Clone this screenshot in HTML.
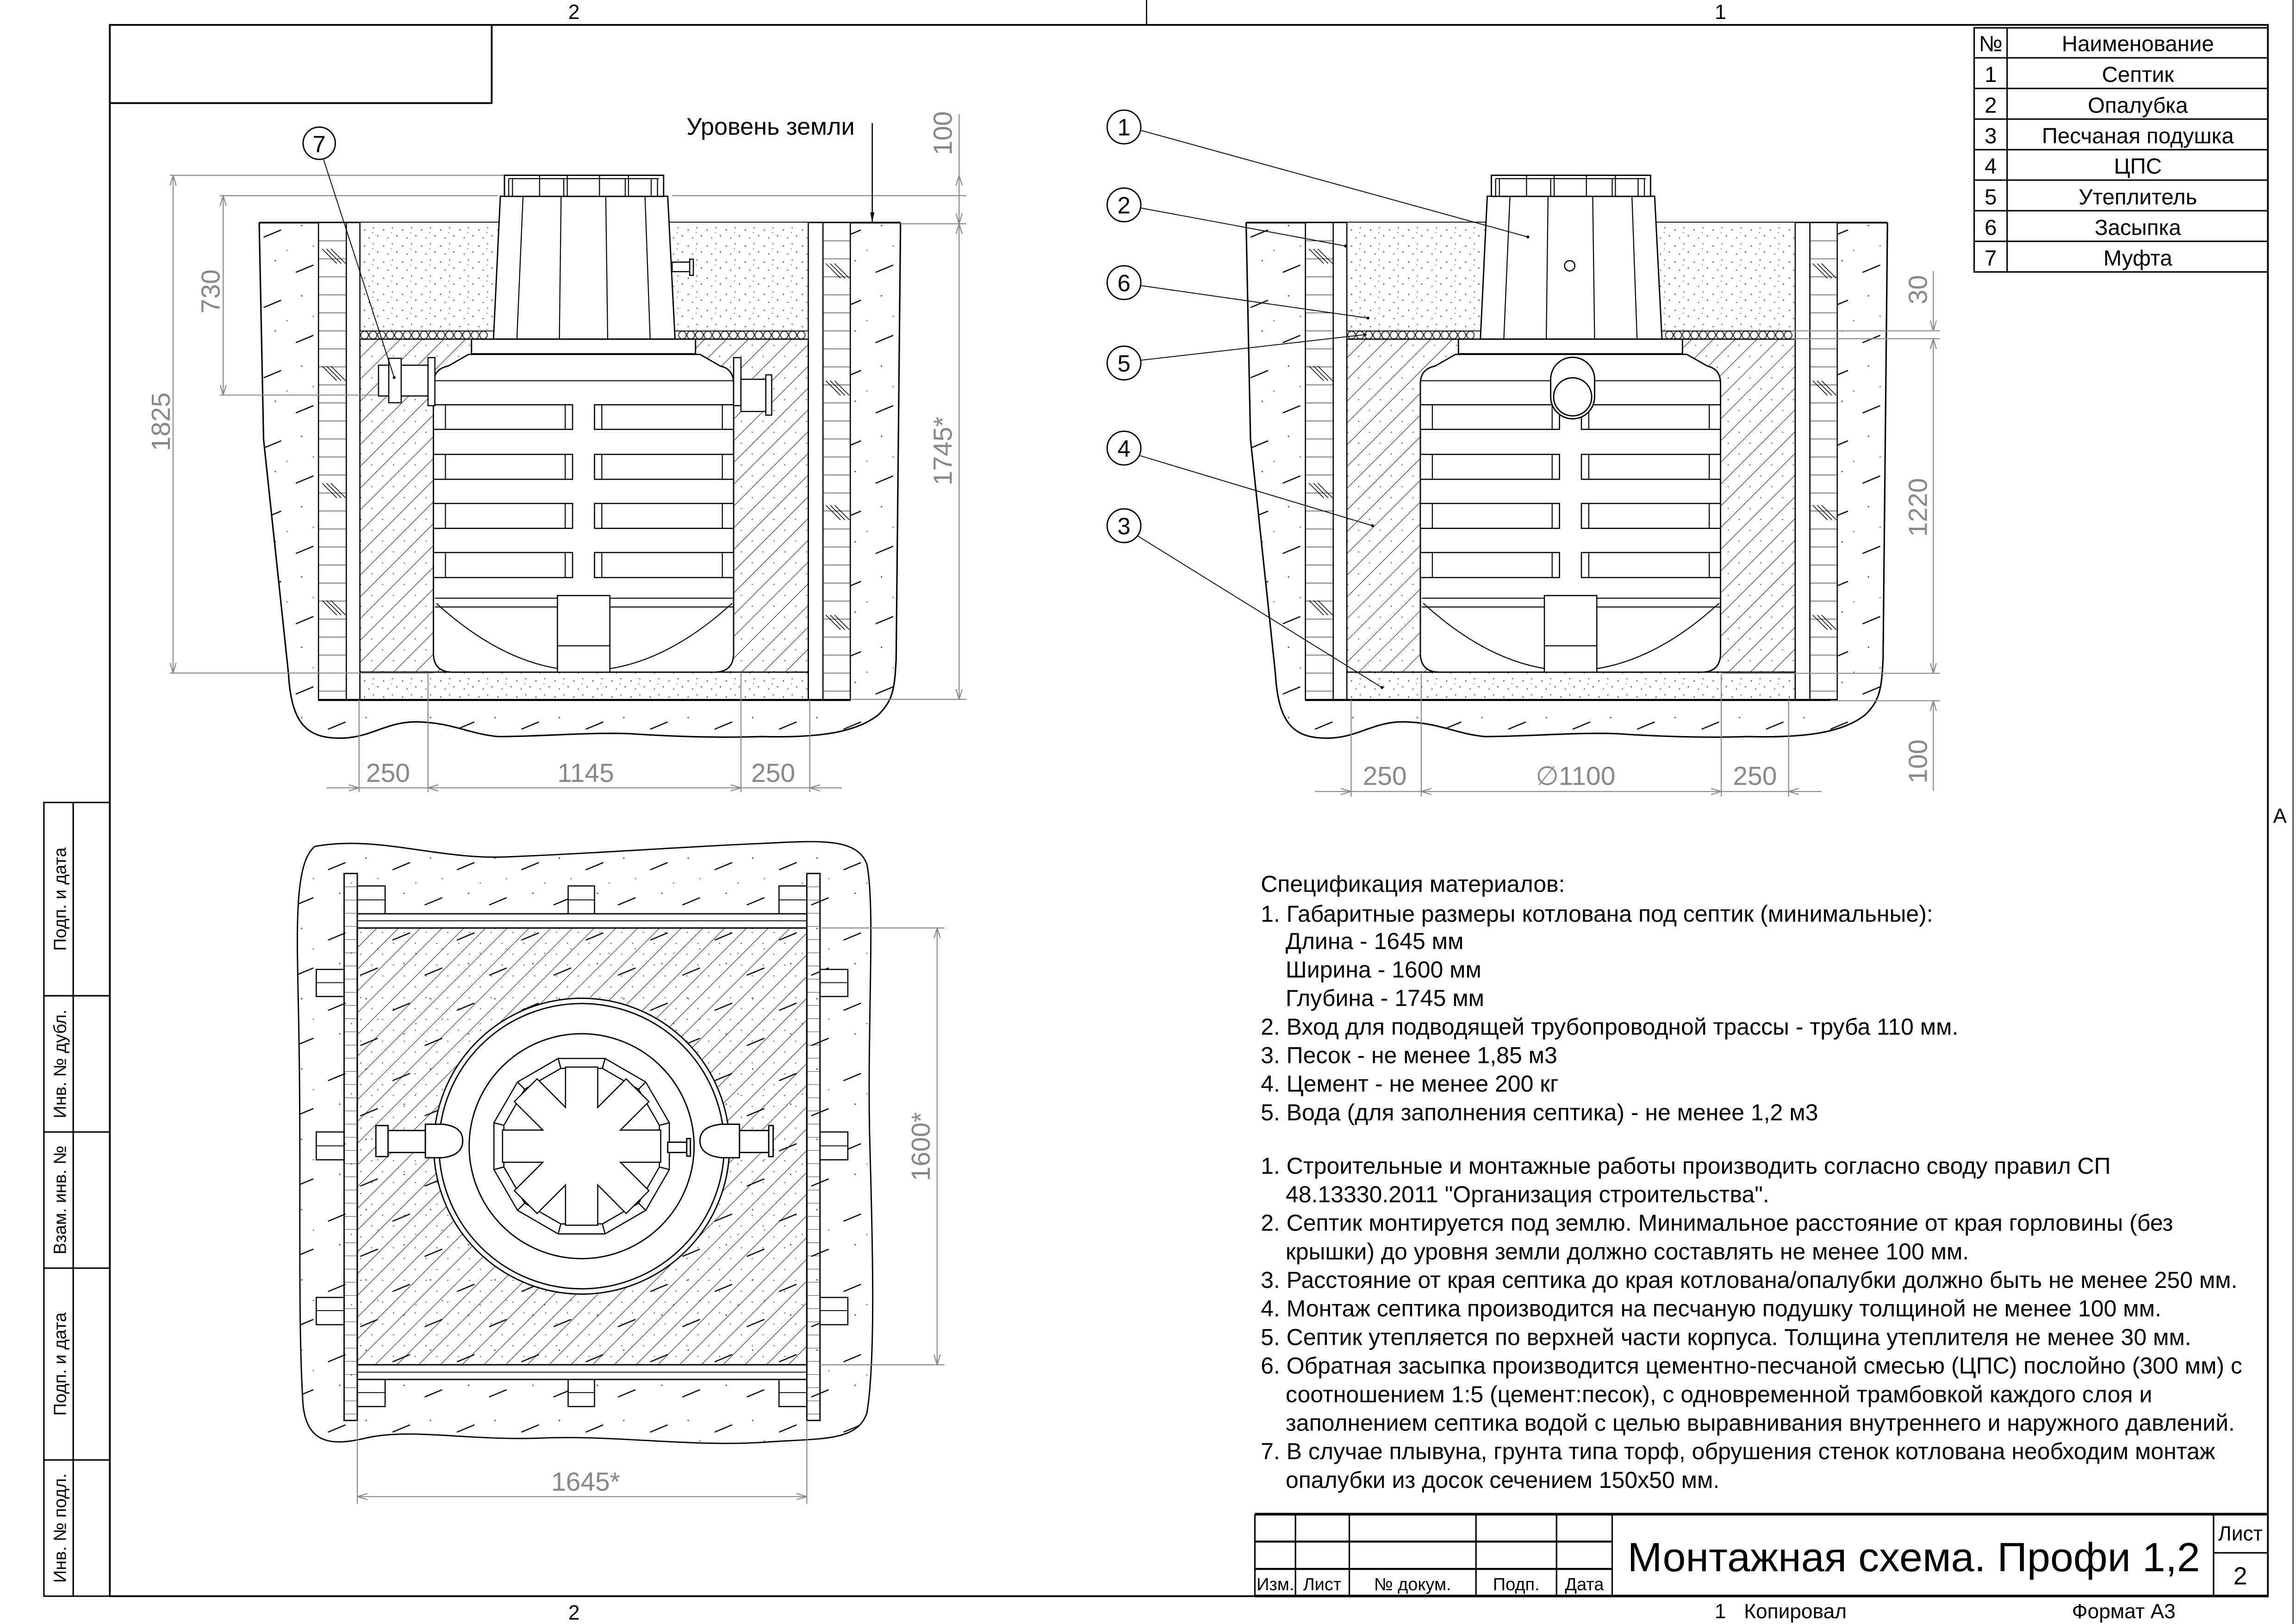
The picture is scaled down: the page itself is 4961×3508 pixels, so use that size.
<!DOCTYPE html>
<html><head><meta charset="utf-8"><style>
html,body{margin:0;padding:0;background:#fff;}
svg{display:block;}
</style></head><body>
<svg xmlns="http://www.w3.org/2000/svg" width="4961" height="3508" viewBox="0 0 1568 1109" preserveAspectRatio="none" font-family="'Liberation Sans', sans-serif">
<defs>
<pattern id="sand" patternUnits="userSpaceOnUse" width="13" height="11">
<circle cx="2" cy="3" r=".45" fill="#444"/><circle cx="8" cy="1.5" r=".4" fill="#444"/><circle cx="11" cy="7" r=".45" fill="#444"/><circle cx="5" cy="8.5" r=".4" fill="#444"/><circle cx="7.5" cy="5" r=".35" fill="#666"/>
</pattern>
<pattern id="ground" patternUnits="userSpaceOnUse" width="44" height="48">
<line x1="4" y1="18" x2="16" y2="13" stroke="#000" stroke-width=".8"/>
<line x1="26" y1="42" x2="38" y2="37" stroke="#000" stroke-width=".8"/>
<circle cx="30" cy="10" r=".5" fill="#444"/><circle cx="12" cy="34" r=".5" fill="#444"/><circle cx="38" cy="24" r=".4" fill="#444"/><circle cx="20" cy="27" r=".4" fill="#444"/>
</pattern>
<pattern id="hatch" patternUnits="userSpaceOnUse" width="10.5" height="10.5" patternTransform="rotate(45)">
<line x1="0" y1="0" x2="0" y2="10.5" stroke="#000" stroke-width=".6"/>
<circle cx="5" cy="3" r=".4" fill="#555"/>
</pattern>
<pattern id="brick" patternUnits="userSpaceOnUse" width="50" height="12.3" y="152">
<line x1="0" y1="0" x2="50" y2="0" stroke="#000" stroke-width=".6"/>
</pattern>
<pattern id="brickp" patternUnits="userSpaceOnUse" width="50" height="9" y="596.5">
<line x1="0" y1="0" x2="50" y2="0" stroke="#000" stroke-width=".5"/>
</pattern>
<marker id="ar" viewBox="0 0 10 10" refX="10" refY="5" markerWidth="7" markerHeight="7" orient="auto-start-reverse" markerUnits="userSpaceOnUse">
<path d="M0,2 L10,5 L0,8" fill="none" stroke="#888" stroke-width="1"/>
</marker>
<marker id="arb" viewBox="0 0 10 10" refX="10" refY="5" markerWidth="7" markerHeight="7" orient="auto" markerUnits="userSpaceOnUse">
<path d="M0,3 L10,5 L0,7 Z" fill="#000"/>
</marker>

<g id="section">
<path d="M177,152 L180,300 L197,460 C199,495 210,505 235,504 C255,503 265,492 287,493 C310,494 320,501 340,503 C370,503 400,500 430,501 C460,503 490,504 520,503 C560,504 585,500 600,488 C610,478 611,470 612,450 L615,152" fill="url(#ground)" stroke="#000" stroke-width="1"/>
<line x1="177" y1="152" x2="615" y2="152" stroke="#000" stroke-width="1.2"/>
<rect x="217.5" y="152" width="363.2" height="326" fill="#fff"/>
<rect x="217.5" y="152" width="19" height="326" fill="url(#brick)" stroke="#000" stroke-width=".8"/>
<rect x="236.5" y="152" width="9.3" height="326" fill="#fff" stroke="#000" stroke-width=".8"/>
<rect x="562" y="152" width="18.7" height="326" fill="url(#brick)" stroke="#000" stroke-width=".8"/>
<rect x="552" y="152" width="10" height="326" fill="#fff" stroke="#000" stroke-width=".8"/>
<g stroke="#000" stroke-width=".5">
<path d="M220,170 l10,10 M223,170 l10,10 M226,170 l10,10 M220,250 l10,10 M223,250 l10,10 M226,250 l10,10 M220,330 l10,10 M223,330 l10,10 M226,330 l10,10 M220,410 l10,10 M223,410 l10,10 M226,410 l10,10"/>
<path d="M564,180 l10,10 M567,180 l10,10 M570,180 l10,10 M564,260 l10,10 M567,260 l10,10 M570,260 l10,10 M564,345 l10,10 M567,345 l10,10 M570,345 l10,10 M564,420 l10,10 M567,420 l10,10 M570,420 l10,10"/>
</g>
<rect x="245.8" y="152" width="306.2" height="74" fill="url(#sand)"/>
<rect x="245.8" y="226" width="306.2" height="5.6" fill="#fff" stroke="#000" stroke-width=".6"/>
<g fill="none" stroke="#000" stroke-width=".5">
<circle cx="249" cy="228.8" r="2.6"/><circle cx="254.8" cy="228.8" r="2.6"/><circle cx="260.6" cy="228.8" r="2.6"/><circle cx="266.4" cy="228.8" r="2.6"/><circle cx="272.2" cy="228.8" r="2.6"/><circle cx="278" cy="228.8" r="2.6"/><circle cx="283.8" cy="228.8" r="2.6"/><circle cx="289.6" cy="228.8" r="2.6"/><circle cx="295.4" cy="228.8" r="2.6"/><circle cx="301.2" cy="228.8" r="2.6"/><circle cx="307" cy="228.8" r="2.6"/><circle cx="312.8" cy="228.8" r="2.6"/><circle cx="318.6" cy="228.8" r="2.6"/><circle cx="324.4" cy="228.8" r="2.6"/><circle cx="330.2" cy="228.8" r="2.6"/>
<circle cx="466" cy="228.8" r="2.6"/><circle cx="471.8" cy="228.8" r="2.6"/><circle cx="477.6" cy="228.8" r="2.6"/><circle cx="483.4" cy="228.8" r="2.6"/><circle cx="489.2" cy="228.8" r="2.6"/><circle cx="495" cy="228.8" r="2.6"/><circle cx="500.8" cy="228.8" r="2.6"/><circle cx="506.6" cy="228.8" r="2.6"/><circle cx="512.4" cy="228.8" r="2.6"/><circle cx="518.2" cy="228.8" r="2.6"/><circle cx="524" cy="228.8" r="2.6"/><circle cx="529.8" cy="228.8" r="2.6"/><circle cx="535.6" cy="228.8" r="2.6"/><circle cx="541.4" cy="228.8" r="2.6"/><circle cx="547.2" cy="228.8" r="2.6"/>
</g>
<rect x="245.8" y="231.6" width="306.2" height="227.4" fill="url(#hatch)" stroke="#000" stroke-width=".8"/>
<rect x="245.8" y="459" width="306.2" height="19" fill="url(#sand)" stroke="#000" stroke-width=".8"/>
<line x1="217.5" y1="478" x2="580.7" y2="478" stroke="#000" stroke-width="1.4"/>
<g fill="#fff" stroke="#000" stroke-width=".9">
<polygon points="341.7,134 456,134 461,231.6 337,231.6"/>
<rect x="344.5" y="119.7" width="108.7" height="14.4"/>
<rect x="322" y="231.6" width="153" height="10"/>
<path d="M296,262 Q296,252 306,250 L320,242 L478,242 L492,250 Q501,252 501,262 L501,446 Q501,459 488,459 L309,459 Q296,459 296,446 Z"/>
</g>
<g fill="none" stroke="#000" stroke-width=".7">
<path d="M357.2,134 L353,231.6 M383.2,134 L382,231.6 M413.7,134 L415,231.6 M440.5,134 L444,231.6"/>
<path d="M347.4,122 L450,122 M347.4,122 L347.4,134 M350,122 L350,134 M368.5,119.7 L368.5,134 M387.4,119.7 L387.4,134 M409.4,119.7 L409.4,134 M429.2,119.7 L429.2,134 M444.7,122 L444.7,134 M449,122 L449,134 M371,122 L385,122 L385,134 M411,122 L427,122 L427,134"/>
<line x1="296" y1="260" x2="501" y2="260"/>
<line x1="297" y1="408.5" x2="501" y2="408.5"/>
<line x1="297" y1="414.5" x2="501" y2="414.5"/>
<path d="M298,412 Q399,504 500,412"/>
</g>
<g fill="#fff" stroke="#000" stroke-width=".8">
<rect x="296" y="276.4" width="95" height="16.8"/><rect x="406" y="276.4" width="95" height="16.8"/>
<rect x="296" y="310.3" width="95" height="17"/><rect x="406" y="310.3" width="95" height="17"/>
<rect x="296" y="343.8" width="95" height="17"/><rect x="406" y="343.8" width="95" height="17"/>
<rect x="296" y="377.3" width="95" height="17.1"/><rect x="406" y="377.3" width="95" height="17.1"/>
<rect x="380.7" y="406.7" width="35.8" height="52.3"/>
</g>
<g stroke="#000" stroke-width=".7">
<path d="M304.2,276.4 V293.2 M386,276.4 V293.2 M411,276.4 V293.2 M493.3,276.4 V293.2 M304.2,310.3 V327.3 M386,310.3 V327.3 M411,310.3 V327.3 M493.3,310.3 V327.3 M304.2,343.8 V360.8 M386,343.8 V360.8 M411,343.8 V360.8 M493.3,343.8 V360.8 M304.2,377.3 V394.4 M386,377.3 V394.4 M411,377.3 V394.4 M493.3,377.3 V394.4"/>
<line x1="380.7" y1="441" x2="416.5" y2="441"/>
</g>
</g>
</defs>

<g fill="none" stroke="#000">
<rect x="75" y="17" width="1473.8" height="1073" stroke-width="1.2"/>
<line x1="783" y1="0" x2="783" y2="17" stroke-width=".8"/>
<polyline points="75,70.4 335.8,70.4 335.8,17" stroke-width="1.2"/>
<line x1="1566" y1="0" x2="1566" y2="1109" stroke-width=".6"/>
</g>
<g font-size="14" fill="#000">
<text x="392" y="13" text-anchor="middle">2</text>
<text x="1175" y="13" text-anchor="middle">1</text>
<text x="392" y="1106" text-anchor="middle">2</text>
<text x="1171" y="1105">1</text>
<text x="1191" y="1105">Копировал</text>
<text x="1415" y="1105">Формат А3</text>
<text x="1557" y="562" text-anchor="middle">A</text>
</g>

<g fill="none" stroke="#000" stroke-width="1">
<rect x="30" y="548" width="45" height="542"/>
<line x1="50" y1="548" x2="50" y2="1090"/>
<line x1="30" y1="680" x2="75" y2="680"/><line x1="30" y1="773" x2="75" y2="773"/><line x1="30" y1="866" x2="75" y2="866"/><line x1="30" y1="997" x2="75" y2="997"/>
</g>
<g font-size="12" fill="#000" text-anchor="middle">
<text transform="translate(45,614) rotate(-90)">Подп. и дата</text>
<text transform="translate(45,726.5) rotate(-90)">Инв. № дубл.</text>
<text transform="translate(45,819.5) rotate(-90)">Взам. инв. №</text>
<text transform="translate(45,931.5) rotate(-90)">Подп. и дата</text>
<text transform="translate(45,1043.5) rotate(-90)">Инв. № подл.</text>
</g>

<g fill="none" stroke="#000" stroke-width="1">
<rect x="1348.2" y="19" width="200.6" height="166.7"/>
<line x1="1370.7" y1="19" x2="1370.7" y2="185.7"/>
<line x1="1348.2" y1="39.5" x2="1548.8" y2="39.5"/><line x1="1348.2" y1="60.4" x2="1548.8" y2="60.4"/><line x1="1348.2" y1="81.3" x2="1548.8" y2="81.3"/><line x1="1348.2" y1="102.2" x2="1548.8" y2="102.2"/><line x1="1348.2" y1="123" x2="1548.8" y2="123"/><line x1="1348.2" y1="143.9" x2="1548.8" y2="143.9"/><line x1="1348.2" y1="164.8" x2="1548.8" y2="164.8"/>
</g>
<g font-size="15" fill="#000" text-anchor="middle">
<text x="1359.5" y="35">№</text><text x="1460" y="35">Наименование</text>
<text x="1359.5" y="56">1</text><text x="1460" y="56">Септик</text>
<text x="1359.5" y="77">2</text><text x="1460" y="77">Опалубка</text>
<text x="1359.5" y="97.8">3</text><text x="1460" y="97.8">Песчаная подушка</text>
<text x="1359.5" y="118.6">4</text><text x="1460" y="118.6">ЦПС</text>
<text x="1359.5" y="139.5">5</text><text x="1460" y="139.5">Утеплитель</text>
<text x="1359.5" y="160.4">6</text><text x="1460" y="160.4">Засыпка</text>
<text x="1359.5" y="181.3">7</text><text x="1460" y="181.3">Муфта</text>
</g>

<use href="#section"/>
<g fill="#fff" stroke="#000" stroke-width=".8">
<rect x="292.3" y="244.2" width="4.7" height="32.8"/>
<rect x="501" y="244.2" width="5" height="32.8"/>
<rect x="258.5" y="249.4" width="33.8" height="21"/>
<rect x="265.5" y="244.7" width="8.5" height="30.3"/>
<rect x="506" y="259" width="17" height="22"/>
<rect x="523" y="256" width="4" height="27.5"/>
<rect x="459" y="179" width="12" height="6.5"/>
<rect x="471" y="177" width="2.5" height="11"/>
</g>
<g transform="translate(674,0)">
<use href="#section"/>
<rect x="385" y="244" width="30" height="42" rx="15" fill="#fff" stroke="#000" stroke-width=".9"/>
<circle cx="400" cy="271" r="13" fill="#fff" stroke="#000" stroke-width=".9"/>
<circle cx="398" cy="181.5" r="3.5" fill="#fff" stroke="#000" stroke-width=".8"/>
</g>

<g stroke="#888" stroke-width=".7" fill="none">
<line x1="116" y1="119.7" x2="344" y2="119.7"/>
<line x1="150" y1="133.6" x2="340" y2="133.6"/>
<line x1="459" y1="133.6" x2="660" y2="133.6"/>
<line x1="615" y1="152.8" x2="660" y2="152.8"/>
<line x1="150" y1="269.8" x2="258" y2="269.8"/>
<line x1="116" y1="459.6" x2="296" y2="459.6"/>
<line x1="581.6" y1="477.6" x2="660" y2="477.6"/>
<line x1="118.2" y1="119.7" x2="118.2" y2="459.6" marker-start="url(#ar)" marker-end="url(#ar)"/>
<line x1="152.4" y1="133.6" x2="152.4" y2="269.8" marker-start="url(#ar)" marker-end="url(#ar)"/>
<line x1="655" y1="78" x2="655" y2="119.7"/>
<line x1="655" y1="119.7" x2="655" y2="152.8" marker-start="url(#ar)" marker-end="url(#ar)"/>
<line x1="655" y1="152.8" x2="655" y2="477.6" marker-start="url(#ar)" marker-end="url(#ar)"/>
<line x1="245.2" y1="478" x2="245.2" y2="541"/><line x1="292.3" y1="460" x2="292.3" y2="541"/><line x1="506" y1="460" x2="506" y2="541"/><line x1="553" y1="478" x2="553" y2="541"/>
<line x1="223" y1="538" x2="245.2" y2="538" marker-end="url(#ar)"/>
<line x1="245.2" y1="538" x2="292.3" y2="538"/>
<line x1="292.3" y1="538" x2="506" y2="538" marker-start="url(#ar)" marker-end="url(#ar)"/>
<line x1="506" y1="538" x2="553" y2="538"/>
<line x1="575" y1="538" x2="553" y2="538" marker-end="url(#ar)"/>
</g>
<g font-size="18" fill="#888" text-anchor="middle">
<text transform="translate(116,288) rotate(-90)">1825</text>
<text transform="translate(150,199) rotate(-90)">730</text>
<text transform="translate(650,91) rotate(-90)">100</text>
<text transform="translate(650,308) rotate(-90)">1745*</text>
<text x="265" y="534">250</text>
<text x="400" y="534">1145</text>
<text x="528" y="534">250</text>
</g>
<text x="468.8" y="92" font-size="16.5" fill="#000">Уровень земли</text>
<line x1="595.7" y1="84" x2="595.7" y2="152" stroke="#000" stroke-width=".8" marker-end="url(#arb)"/>
<circle cx="218" cy="97.8" r="11" fill="#fff" stroke="#000" stroke-width=".9"/>
<text x="218" y="104" font-size="16" text-anchor="middle">7</text>
<line x1="221" y1="109" x2="269.2" y2="257.8" stroke="#000" stroke-width=".6"/>
<circle cx="269.2" cy="257.8" r="1" fill="#000"/>

<g stroke="#000" stroke-width=".6" fill="none">
<line x1="779" y1="89" x2="1043.4" y2="161.8"/>
<line x1="779" y1="142" x2="918.9" y2="168"/>
<line x1="779" y1="195" x2="934.2" y2="217.2"/>
<line x1="779" y1="246" x2="932.3" y2="228.5"/>
<line x1="778" y1="311" x2="937.3" y2="359"/>
<line x1="777" y1="366" x2="943.8" y2="469.5"/>
</g>
<g fill="#000"><circle cx="1043.4" cy="161.8" r="1"/><circle cx="918.9" cy="168" r="1"/><circle cx="934.2" cy="217.2" r="1"/><circle cx="932.3" cy="228.5" r="1"/><circle cx="937.3" cy="359" r="1"/><circle cx="943.8" cy="469.5" r="1"/></g>
<g fill="#fff" stroke="#000" stroke-width=".9">
<circle cx="767.6" cy="86.7" r="11.5"/><circle cx="767.6" cy="139.9" r="11.5"/><circle cx="767.6" cy="193" r="11.5"/><circle cx="767.6" cy="247.9" r="11.5"/><circle cx="767.6" cy="306" r="11.5"/><circle cx="767.6" cy="359" r="11.5"/>
</g>
<g font-size="16" text-anchor="middle" fill="#000">
<text x="767.6" y="92.5">1</text><text x="767.6" y="145.7">2</text><text x="767.6" y="198.8">6</text><text x="767.6" y="253.7">5</text><text x="767.6" y="311.8">4</text><text x="767.6" y="364.8">3</text>
</g>
<g stroke="#888" stroke-width=".7" fill="none">
<line x1="1223" y1="225.9" x2="1325" y2="225.9"/>
<line x1="1223" y1="231.3" x2="1325" y2="231.3"/>
<line x1="1176" y1="459.8" x2="1325" y2="459.8"/>
<line x1="1250" y1="478.5" x2="1325" y2="478.5"/>
<line x1="1320.3" y1="185" x2="1320.3" y2="225.9" marker-end="url(#ar)"/>
<line x1="1320.3" y1="231.3" x2="1320.3" y2="459.8" marker-start="url(#ar)" marker-end="url(#ar)"/>
<line x1="1320.3" y1="478.5" x2="1320.3" y2="540" marker-start="url(#ar)"/>
<line x1="922.7" y1="478" x2="922.7" y2="544"/><line x1="970.6" y1="460" x2="970.6" y2="544"/><line x1="1175.5" y1="460" x2="1175.5" y2="544"/><line x1="1221.5" y1="478" x2="1221.5" y2="544"/>
<line x1="898" y1="540.5" x2="922.7" y2="540.5" marker-end="url(#ar)"/>
<line x1="922.7" y1="540.5" x2="970.6" y2="540.5"/>
<line x1="970.6" y1="540.5" x2="1175.5" y2="540.5" marker-start="url(#ar)" marker-end="url(#ar)"/>
<line x1="1175.5" y1="540.5" x2="1221.5" y2="540.5"/>
<line x1="1244" y1="540.5" x2="1221.5" y2="540.5" marker-end="url(#ar)"/>
</g>
<g font-size="18" fill="#888" text-anchor="middle">
<text transform="translate(1316,197.8) rotate(-90)">30</text>
<text transform="translate(1316,346.5) rotate(-90)">1220</text>
<text transform="translate(1316,520) rotate(-90)">100</text>
<text x="945.7" y="536">250</text>
<text x="1076" y="536">∅1100</text>
<text x="1198.5" y="536">250</text>
</g>

<path d="M215,578 C260,570 300,588 350,585 C420,582 470,578 520,576 C560,574 585,572 592,590 C598,620 592,700 594,780 C596,850 598,930 592,965 C585,985 560,982 520,985 C470,988 420,980 370,982 C320,984 280,975 250,982 C225,988 210,985 207,960 C203,900 206,800 204,700 C203,640 200,590 215,578 Z" fill="url(#ground)" stroke="#000" stroke-width=".9"/>
<g fill="#fff" stroke="#000" stroke-width=".8">
<rect x="244" y="605" width="19" height="19"/><rect x="388" y="605" width="18" height="19"/><rect x="532" y="605" width="19" height="19"/>
<rect x="244" y="942" width="19" height="18.5"/><rect x="388" y="942" width="18" height="18.5"/><rect x="532" y="942" width="19" height="18.5"/>
<rect x="216" y="662" width="19" height="18.5"/><rect x="216" y="773" width="19" height="19"/><rect x="216" y="886" width="19" height="18.6"/>
<rect x="560" y="662" width="19" height="18.5"/><rect x="560" y="773" width="19" height="19"/><rect x="560" y="886" width="19" height="18.6"/>
</g>
<g stroke="#000" stroke-width=".6">
<path d="M244,614.5 H263 M388,614.5 H406 M532,614.5 H551 M244,951 H263 M388,951 H406 M532,951 H551 M216,671 H235 M216,782.5 H235 M216,895 H235 M560,671 H579 M560,782.5 H579 M560,895 H579"/>
</g>
<rect x="244" y="633.7" width="307" height="298.3" fill="url(#hatch)" stroke="#000" stroke-width="1"/>
<rect x="244" y="624" width="307" height="9.7" fill="#fff" stroke="#000" stroke-width=".9"/>
<line x1="244" y1="628.8" x2="551" y2="628.8" stroke="#000" stroke-width=".6"/>
<rect x="244" y="932" width="307" height="10" fill="#fff" stroke="#000" stroke-width=".9"/>
<line x1="244" y1="937" x2="551" y2="937" stroke="#000" stroke-width=".6"/>
<rect x="235" y="596.5" width="9" height="373.5" fill="url(#brickp)" stroke="#000" stroke-width=".9"/>
<rect x="551" y="596.5" width="9" height="373.5" fill="url(#brickp)" stroke="#000" stroke-width=".9"/>
<g fill="#fff" stroke="#000" stroke-width=".9">
<circle cx="397.2" cy="782.7" r="101"/>
<circle cx="397.2" cy="782.7" r="97.4" fill="none"/>
<circle cx="397.2" cy="782.7" r="76.8"/>
</g>
<g transform="translate(397.2,782.7)" stroke="#000" stroke-width=".8" fill="#fff">
<polygon points="59.9,16 43.8,43.8 16,59.9 -16,59.9 -43.8,43.8 -59.9,16 -59.9,-16 -43.8,-43.8 -16,-59.9 16,-59.9 43.8,-43.8 59.9,-16"/>
<polygon points="53.1,14.2 38.9,38.9 14.2,53.1 -14.2,53.1 -38.9,38.9 -53.1,14.2 -53.1,-14.2 -38.9,-38.9 -14.2,-53.1 14.2,-53.1 38.9,-38.9 53.1,-14.2"/>
<path d="M59.9,16 L53.1,14.2 M43.8,43.8 L38.9,38.9 M16,59.9 L14.2,53.1 M-16,59.9 L-14.2,53.1 M-43.8,43.8 L-38.9,38.9 M-59.9,16 L-53.1,14.2 M-59.9,-16 L-53.1,-14.2 M-43.8,-43.8 L-38.9,-38.9 M-16,-59.9 L-14.2,-53.1 M16,-59.9 L14.2,-53.1 M43.8,-43.8 L38.9,-38.9 M59.9,-16 L53.1,-14.2" fill="none"/>
<polygon points="54,-11 54,11 26.5,11 45.96,30.41 30.41,45.96 11,26.5 11,54 -11,54 -11,26.5 -30.41,45.96 -45.96,30.41 -26.5,11 -54,11 -54,-11 -26.5,-11 -45.96,-30.41 -30.41,-45.96 -11,-26.5 -11,-54 11,-54 11,-26.5 30.41,-45.96 45.96,-30.41 26.5,-11"/>
</g>
<g fill="#fff" stroke="#000" stroke-width=".9">
<rect x="256.7" y="768.6" width="8.3" height="21.2"/>
<rect x="265" y="772" width="25.5" height="15"/>
<path d="M290.5,767.7 L302,767.7 Q316,769 316,779 Q316,789 302,790.6 L290.5,790.6 Z"/>
<rect x="505" y="772" width="20" height="15"/>
<rect x="525" y="768.6" width="3" height="21.2"/>
<path d="M505,767.7 L493,767.7 Q478,769 478,779 Q478,789 493,790.6 L505,790.6 Z"/>
<rect x="456" y="780" width="13" height="7"/>
<rect x="469" y="777.5" width="2.5" height="12"/>
</g>
<g stroke="#888" stroke-width=".7" fill="none">
<line x1="560" y1="633.7" x2="645" y2="633.7"/>
<line x1="560" y1="932" x2="645" y2="932"/>
<line x1="640" y1="633.7" x2="640" y2="932" marker-start="url(#ar)" marker-end="url(#ar)"/>
<line x1="244" y1="970" x2="244" y2="1027"/>
<line x1="551" y1="970" x2="551" y2="1027"/>
<line x1="244" y1="1022" x2="551" y2="1022" marker-start="url(#ar)" marker-end="url(#ar)"/>
</g>
<g font-size="18" fill="#888" text-anchor="middle">
<text transform="translate(635,783) rotate(-90)">1600*</text>
<text x="400" y="1018">1645*</text>
</g>

<g font-size="15.8" fill="#000">
<text x="861" y="609">Спецификация материалов:</text>
<text x="861" y="629.5">1. Габаритные размеры котлована под септик (минимальные):</text>
<text x="878" y="648">Длина - 1645 мм</text>
<text x="878" y="667.5">Ширина - 1600 мм</text>
<text x="878" y="687">Глубина - 1745 мм</text>
<text x="861" y="706.5">2. Вход для подводящей трубопроводной трассы - труба 110 мм.</text>
<text x="861" y="726">3. Песок - не менее 1,85 м3</text>
<text x="861" y="745.5">4. Цемент - не менее 200 кг</text>
<text x="861" y="765">5. Вода (для заполнения септика) - не менее 1,2 м3</text>
<text x="861" y="801.5">1. Строительные и монтажные работы производить согласно своду правил СП</text>
<text x="878" y="821">48.13330.2011 "Организация строительства".</text>
<text x="861" y="840.5">2. Септик монтируется под землю. Минимальное расстояние от края горловины (без</text>
<text x="878" y="860">крышки) до уровня земли должно составлять не менее 100 мм.</text>
<text x="861" y="879.5">3. Расстояние от края септика до края котлована/опалубки должно быть не менее 250 мм.</text>
<text x="861" y="899">4. Монтаж септика производится на песчаную подушку толщиной не менее 100 мм.</text>
<text x="861" y="918.5">5. Септик утепляется по верхней части корпуса. Толщина утеплителя не менее 30 мм.</text>
<text x="861" y="938">6. Обратная засыпка производится цементно-песчаной смесью (ЦПС) послойно (300 мм) с</text>
<text x="878" y="957.5">соотношением 1:5 (цемент:песок), с одновременной трамбовкой каждого слоя и</text>
<text x="878" y="977">заполнением септика водой с целью выравнивания внутреннего и наружного давлений.</text>
<text x="861" y="996.5">7. В случае плывуна, грунта типа торф, обрушения стенок котлована необходим монтаж</text>
<text x="878" y="1016">опалубки из досок сечением 150х50 мм.</text>
</g>

<g fill="none" stroke="#000" stroke-width="1">
<line x1="857" y1="1034" x2="1549" y2="1034" stroke-width="1.8"/>
<line x1="857" y1="1089.9" x2="1549" y2="1089.9" stroke-width="1.8"/>
<line x1="857" y1="1034" x2="857" y2="1090"/>
<line x1="884.7" y1="1034" x2="884.7" y2="1090"/>
<line x1="921.5" y1="1034" x2="921.5" y2="1090"/>
<line x1="1008" y1="1034" x2="1008" y2="1090"/>
<line x1="1063" y1="1034" x2="1063" y2="1090"/>
<line x1="1101" y1="1034" x2="1101" y2="1090"/>
<line x1="1511.7" y1="1034" x2="1511.7" y2="1090"/>
<line x1="857" y1="1052.7" x2="1101" y2="1052.7" stroke-width="1.4"/>
<line x1="857" y1="1071.4" x2="1101" y2="1071.4" stroke-width="1.4"/>
<line x1="1511.7" y1="1060.4" x2="1549" y2="1060.4"/>
</g>
<g font-size="12" fill="#000" text-anchor="middle">
<text x="871" y="1086">Изм.</text>
<text x="903" y="1086">Лист</text>
<text x="964.7" y="1086">№ докум.</text>
<text x="1035.5" y="1086">Подп.</text>
<text x="1082" y="1086">Дата</text>
<text x="1530" y="1052" font-size="14">Лист</text>
<text x="1530" y="1082" font-size="17">2</text>
</g>
<text x="1111.5" y="1073" font-size="28" textLength="391" lengthAdjust="spacingAndGlyphs" fill="#000">Монтажная схема. Профи 1,2</text>
</svg>
</body></html>
